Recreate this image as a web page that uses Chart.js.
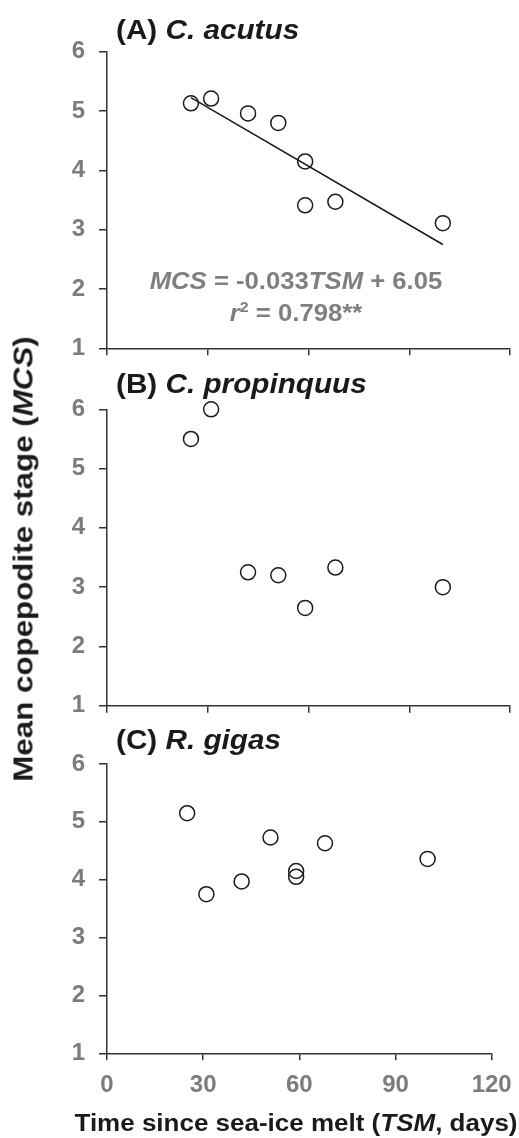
<!DOCTYPE html>
<html><head><meta charset="utf-8">
<script src="https://cdn.jsdelivr.net/npm/chart.js@4.4.1/dist/chart.umd.min.js"></script>
<style>
html,body{margin:0;padding:0;background:#fff;}
#wrap{position:relative;width:519px;height:1138px;overflow:hidden;font-family:"Liberation Sans",Arial,Helvetica,sans-serif;font-weight:bold;}
canvas{position:absolute;left:0;}
.t{position:absolute;white-space:nowrap;}
.ttl{font-size:27px;line-height:27px;color:#1a1a1a;transform-origin:0 50%;transform:scaleX(1.1);}
.eq{font-size:24px;line-height:24px;color:#7f7f7f;transform:translateX(-50%) scaleX(1.07);transform-origin:50% 50%;}
</style></head><body>
<div id="wrap">
<canvas id="cA" width="519" height="380" style="top:0px;width:519px;height:380px"></canvas>
<canvas id="cB" width="519" height="370" style="top:370px;width:519px;height:370px"></canvas>
<canvas id="cC" width="519" height="398" style="top:740px;width:519px;height:398px"></canvas>

<div class="t ttl" style="left:116px;top:16.5px">(A) <i>C. acutus</i></div>
<div class="t ttl" style="left:116px;top:371px">(B) <i>C. propinquus</i></div>
<div class="t ttl" style="left:116px;top:727px">(C) <i>R. gigas</i></div>

<div class="t eq" style="left:296px;top:269px"><i>MCS</i> = -0.033<i>TSM</i> + 6.05</div>
<div class="t eq" style="left:296px;top:300.5px"><i>r</i><sup style="font-size:15px;vertical-align:9px;line-height:0">2</sup> = 0.798**</div>

<div class="t" style="left:24px;top:558.5px;font-size:27px;line-height:27px;color:#1a1a1a;transform:translate(-50%,-50%) rotate(-90deg) scaleX(1.16);transform-origin:50% 50%;">Mean copepodite stage (<i>MCS</i>)</div>
<div class="t" style="left:296px;top:1111.5px;font-size:23px;line-height:23px;color:#1a1a1a;transform:translateX(-50%) scaleX(1.13);transform-origin:50% 50%;">Time since sea-ice melt (<i>TSM</i>, days)</div>
</div>
<script>
// ---- data ----
const tsmDays = [25, 31, 42, 51, 59, 59, 68, 100];
const acutusMCS = [5.13, 5.21, 4.96, 4.80, 4.15, 3.41, 3.47, 3.11];
const propinquusTSM = [25, 31, 42, 51, 59, 68, 100];
const propinquusMCS = [5.50, 6.00, 3.25, 3.20, 2.65, 3.33, 3.00];
const gigasMCS = [5.15, 3.75, 3.97, 4.73, 4.15, 4.05, 4.63, 4.36];
const fitTSM = [25, 100];
const fitMCS = [5.225, 2.75];
const xTicks = [0, 30, 60, 90, 120];
const yTicks = [1, 2, 3, 4, 5, 6];

const axisColor = '#333333';
const tickColor = '#7c7c7c';
const tickFont = {family: '"Liberation Sans", Arial, sans-serif', size: 24, weight: 'bold'};

function pts(xs, ys) { return xs.map((x, i) => ({x: x, y: ys[i]})); }
function scatterSet(xs, ys) {
  return {data: pts(xs, ys), showLine: false, pointStyle: 'circle', pointRadius: 7.5,
    pointBorderWidth: 1.5, pointBorderColor: '#1a1a1a', pointBackgroundColor: 'rgba(255,255,255,0)', clip: false};
}
function lineSet(xs, ys) {
  return {data: pts(xs, ys), showLine: true, pointRadius: 0, borderColor: '#1a1a1a', borderWidth: 1.5, clip: false};
}
function makeChart(id, datasets, cfg) {
  return new Chart(document.getElementById(id), {
    type: 'scatter',
    data: {datasets: datasets},
    options: {
      responsive: false, animation: false, devicePixelRatio: 1,
      layout: {padding: cfg.padding},
      plugins: {legend: {display: false}, tooltip: {enabled: false}, title: {display: false}},
      scales: {
        x: {type: 'linear', min: 0, max: 120,
          afterBuildTicks: s => { s.ticks = xTicks.map(v => ({value: v})); },
          afterFit: s => { s.height = cfg.xHeight; s.paddingLeft = 0; s.paddingRight = 0; },
          grid: {display: true, drawOnChartArea: false, drawTicks: true, tickLength: 7, color: axisColor, lineWidth: 1.5},
          border: {display: true, color: axisColor, width: 1.5},
          ticks: {display: cfg.xLabels, padding: 11, font: tickFont, color: tickColor, maxRotation: 0, autoSkip: false}
        },
        y: {type: 'linear', min: 1, max: 6,
          afterBuildTicks: s => { s.ticks = yTicks.map(v => ({value: v})); },
          afterFit: s => { s.width = 60; s.paddingTop = 0; s.paddingBottom = 0; },
          grid: {display: true, drawOnChartArea: false, drawTicks: true, tickLength: 8, color: axisColor, lineWidth: 1.5},
          border: {display: true, color: axisColor, width: 1.5},
          ticks: {padding: 14, font: tickFont, color: tickColor, autoSkip: false}
        }
      }
    }
  });
}

makeChart('cA', [scatterSet(tsmDays, acutusMCS), lineSet(fitTSM, fitMCS)],
  {padding: {left: 47, right: 6, top: 51.7, bottom: 11.7}, xHeight: 20, xLabels: false});
makeChart('cB', [scatterSet(propinquusTSM, propinquusMCS)],
  {padding: {left: 47, right: 6, top: 39.3, bottom: 14.3}, xHeight: 20, xLabels: false});
makeChart('cC', [scatterSet(tsmDays, gigasMCS)],
  {padding: {left: 47, right: 27.3, top: 24, bottom: 34.7}, xHeight: 50, xLabels: true});
</script>
</body></html>
